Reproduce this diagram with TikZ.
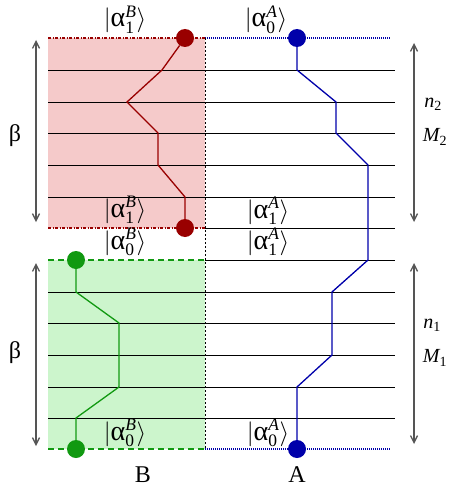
\documentclass[tikz,border=0pt]{standalone}
\usepackage{fontspec}
\setmainfont{Liberation Serif}
\usepackage{amsmath}
\usetikzlibrary{arrows.meta}
\definecolor{rdark}{HTML}{990000}
\definecolor{rfill}{HTML}{F5CACA}
\definecolor{gdark}{HTML}{119911}
\definecolor{gfill}{HTML}{CCF5CC}
\definecolor{bdark}{HTML}{0000AA}
\definecolor{arrgray}{HTML}{555555}
\newcommand{\bigalpha}{\mbox{\fontsize{28}{30}\selectfont α}}
\newcommand{\ket}[2]{$|\bigalpha_{\text{#1}}^{\text{\itshape #2}}\rangle$}
\begin{document}
\begin{tikzpicture}[x=1pt,y=-1pt,font=\fontsize{22}{26}\selectfont,
  level/.style={black,line width=0.8pt},
  reddash/.style={rdark,line width=1.8pt,dash pattern=on 3pt off 1.5pt on 1pt off 1.5pt},
  bluedot/.style={bdark,line width=1.8pt,dash pattern=on 1pt off 1pt},
  greendash/.style={gdark,line width=1.8pt,dash pattern=on 6pt off 4pt},
  sep/.style={black,line width=0.6pt,dash pattern=on 2pt off 2pt},
  dot/.style={circle,inner sep=0pt,minimum size=18pt},
  rpath/.style={rdark,line width=1.3pt},
  gpath/.style={gdark,line width=1.3pt},
  bpath/.style={bdark,line width=1.3pt},
  span/.style={arrgray,line width=1.3pt,{Straight Barb[length=7pt,width=7pt]}-{Straight Barb[length=7pt,width=7pt]}},
  lab/.style={inner sep=0pt},
  ketlab/.style={inner sep=0pt,text height=13pt,text depth=3pt,font=\fontsize{25}{28}\selectfont}]
\useasboundingbox (0,0) rectangle (451,487);
% shaded blocks
\fill[rfill] (48,38) rectangle (205,228);
\fill[gfill] (48,260) rectangle (205,449);
% levels
\foreach \y in {70,102,133,165,197,292,323,355,387,418}
  \draw[level] (48,\y) -- (395,\y);
\draw[level] (205,228) -- (395,228);
\draw[level] (205,260) -- (395,260);
% borders
\draw[reddash] (48,38) -- (205,38);
\draw[reddash] (48,228) -- (205,228);
\draw[bluedot] (205,38) -- (391,38);
\draw[bluedot] (205,449) -- (391,449);
\draw[greendash] (48,260) -- (205,260);
\draw[greendash] (48,449) -- (205,449);
\draw[sep] (205,38) -- (205,449);
% dots
\node[dot,fill=rdark] (r1) at (185,38) {};
\node[dot,fill=rdark] (r0) at (185,228) {};
\node[dot,fill=bdark] (b1) at (297,38) {};
\node[dot,fill=bdark] (b0) at (297,449) {};
\node[dot,fill=gdark] (g1) at (76,260) {};
\node[dot,fill=gdark] (g0) at (76,449) {};
% paths
\draw[rpath] (r1) -- (162,70) -- (127,102) -- (158,133) -- (158,165) -- (185,197) -- (r0);
\draw[bpath] (b1) -- (297,70) -- (336,102) -- (336,133) -- (368,165) -- (368,260) -- (332,292) -- (332,355) -- (297,387) -- (b0);
\draw[gpath] (g1) -- (76,292) -- (119,323) -- (119,387) -- (76,418) -- (g0);
% labels
\node[ketlab] (lb1t) at (125,22) {\ket{1}{B}};
\node[ketlab] (lb1b) at (125,212) {\ket{1}{B}};
\node[ketlab] (lb0t) at (125,244) {\ket{0}{B}};
\node[ketlab] (lb0b) at (125,435) {\ket{0}{B}};
\node[ketlab] (la0t) at (266,22) {\ket{0}{A}};
\node[ketlab] (la1b) at (268,213) {\ket{1}{A}};
\node[ketlab] (la1t) at (268,244) {\ket{1}{A}};
\node[ketlab] (la0b) at (268,435) {\ket{0}{A}};
% span arrows
\coordinate (lt1) at (36,40); \coordinate (lt2) at (36,222);
\coordinate (lb1) at (36,263); \coordinate (lb2) at (36,446);
\coordinate (rt1) at (414,43); \coordinate (rt2) at (414,222);
\coordinate (rb1) at (414,263); \coordinate (rb2) at (414,444);
\draw[span] (lt1) -- (lt2);
\draw[span] (lb1) -- (lb2);
\draw[span] (rt1) -- (rt2);
\draw[span] (rb1) -- (rb2);
\node[lab,font=\fontsize{24}{28}\selectfont] (beta1) at (15,136) {β};
\node[lab,font=\fontsize{24}{28}\selectfont] (beta2) at (15,353) {β};
\node[lab,font=\fontsize{20}{24}\selectfont] (n2) at (433,104) {$\textit{n}_{\text{2}}$};
\node[lab,font=\fontsize{20}{24}\selectfont] (m2) at (435,137) {$\textit{M}_{\text{2}}$};
\node[lab,font=\fontsize{20}{24}\selectfont] (n1) at (432,325) {$\textit{n}_{\text{1}}$};
\node[lab,font=\fontsize{20}{24}\selectfont] (m1) at (435,358) {$\textit{M}_{\text{1}}$};
\node[lab,font=\fontsize{24}{28}\selectfont] (labB) at (143,475) {B};
\node[lab,font=\fontsize{24}{28}\selectfont] (labA) at (297,475) {A};
\end{tikzpicture}
\end{document}
